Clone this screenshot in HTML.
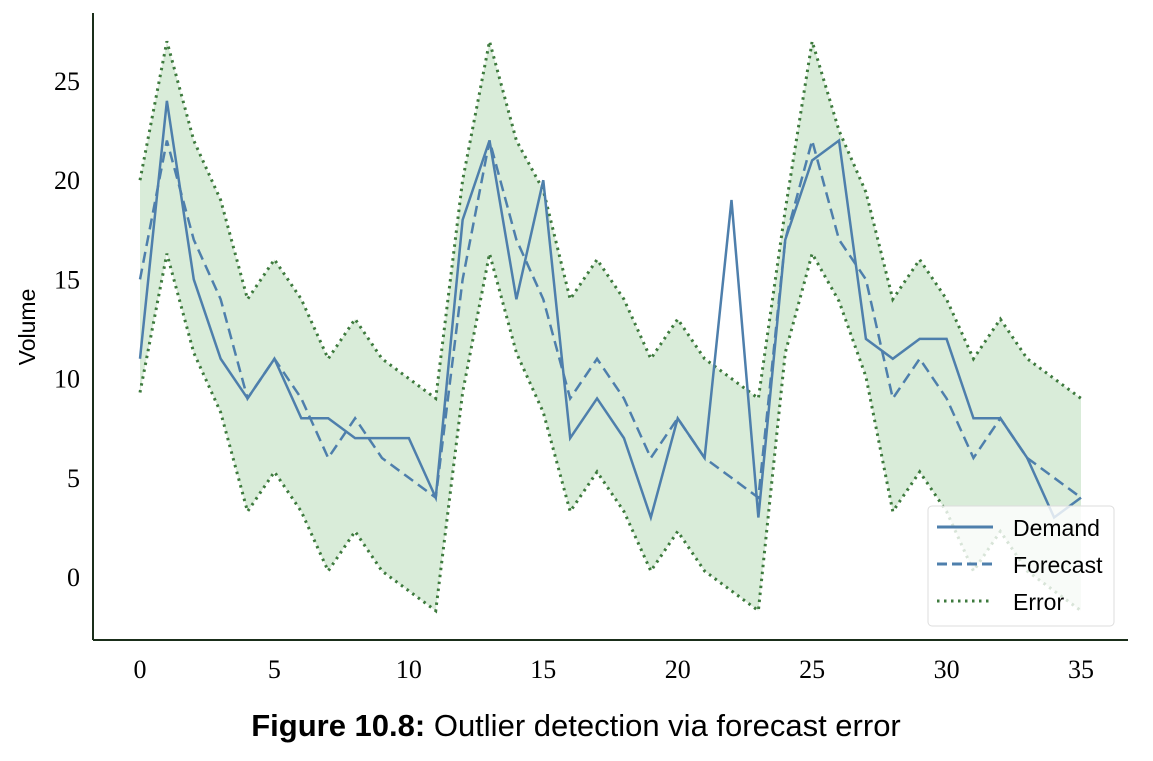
<!DOCTYPE html>
<html><head><meta charset="utf-8"><style>
body{margin:0;background:#fff;width:1153px;height:756px;overflow:hidden}
svg text{font-family:"Liberation Serif",serif}
</style></head><body>
<svg width="1153" height="756">
<g id="plot"></g>
<line x1="93" y1="13" x2="93" y2="640" stroke="#1a2e1a" stroke-width="2"/>
<line x1="93" y1="640" x2="1128" y2="640" stroke="#1a2e1a" stroke-width="2"/>
<g id="ticks"></g>
<text x="35" y="327" transform="rotate(-90 35 327)" text-anchor="middle" style="font-family:'Liberation Sans',sans-serif;font-size:23px">Volume</text>
<g>
<rect x="928" y="506" width="186" height="120" rx="4" fill="#fff" fill-opacity="0.8" stroke="#ddd"/>
<line x1="937" y1="527" x2="993" y2="527" stroke="#4e7fac" stroke-width="3"/>
<line x1="937" y1="564" x2="993" y2="564" stroke="#4e7fac" stroke-width="3" stroke-dasharray="10,5"/>
<line x1="937" y1="601" x2="993" y2="601" stroke="#3d7a3d" stroke-width="3" stroke-dasharray="2.5,4.5"/>
<text x="1013" y="536" style="font-family:'Liberation Sans',sans-serif;font-size:23px">Demand</text>
<text x="1013" y="573" style="font-family:'Liberation Sans',sans-serif;font-size:23px">Forecast</text>
<text x="1013" y="610" style="font-family:'Liberation Sans',sans-serif;font-size:23px">Error</text>
</g>
<text x="576" y="736" text-anchor="middle" style="font-family:'Liberation Sans',sans-serif;font-size:31px"><tspan font-weight="bold">Figure 10.8:</tspan> Outlier detection via forecast error</text>
</svg>
<script>
const xs=[...Array(36).keys()];
const demand=[11,24,15,11,9,11,8,8,7,7,7,4,18,22,14,20,7,9,7,3,8,6,19,3,17,21,22,12,11,12,12,8,8,6,3,4];
const forecast=[15,22,17,14,9,11,9,6,8,6,5,4,15,22,17,14,9,11,9,6,8,6,5,4,17,22,17,15,9,11,9,6,8,6,5,4];
const errUpper=[20,27,22,19,14,16,14,11,13,11,10,9,20,27,22,19.5,14,16,14,11,13,11,10,9,18.5,27,22.5,19.4,14,16,14,11,13,11,10,9];
const errLower=[9.3,16.3,11.3,8.3,3.3,5.3,3.3,0.3,2.3,0.3,-0.7,-1.7,9.3,16.3,11.3,8.3,3.3,5.3,3.3,0.3,2.3,0.3,-0.7,-1.7,11.3,16.3,13.9,10.1,3.3,5.3,3.3,0.3,2.3,0.3,-0.7,-1.7];
const xTicks=[0,5,10,15,20,25,30,35];
const yTicks=[0,5,10,15,20,25];
const X=v=>140+v*(1081-140)/35, Y=v=>577-v*(577-81)/25;
const NS="http://www.w3.org/2000/svg";
const plot=document.getElementById('plot'), tk=document.getElementById('ticks');
function mk(tag,attrs,parent){const e=document.createElementNS(NS,tag);for(const k in attrs)e.setAttribute(k,attrs[k]);parent.appendChild(e);return e;}
const up=errUpper.map((v,i)=>[X(xs[i]),Y(v)]), lo=errLower.map((v,i)=>[X(xs[i]),Y(v)]);
const band=mk('path',{d:'M'+up.map(p=>p.join(',')).join('L')+'L'+lo.slice().reverse().map(p=>p.join(',')).join('L')+'Z',fill:'#d9ecd9'},plot);


const pu=mk('polyline',{points:up.map(p=>p.join(',')).join(' '),fill:'none',stroke:'#3d7a3d','stroke-width':3,'stroke-dasharray':'2.5,4.5'},plot);


const pl=mk('polyline',{points:lo.map(p=>p.join(',')).join(' '),fill:'none',stroke:'#3d7a3d','stroke-width':3,'stroke-dasharray':'2.5,4.5'},plot);


const fl=mk('polyline',{points:forecast.map((v,i)=>X(xs[i])+','+Y(v)).join(' '),fill:'none',stroke:'#4e7fac','stroke-width':2.5,'stroke-dasharray':'11,6'},plot);


const dl=mk('polyline',{points:demand.map((v,i)=>X(xs[i])+','+Y(v)).join(' '),fill:'none',stroke:'#4e7fac','stroke-width':2.5},plot);


xTicks.forEach(t=>{const e=mk('text',{x:X(t),y:678,'text-anchor':'middle','font-size':26},tk);e.textContent=t;

});
yTicks.forEach(t=>{const e=mk('text',{x:80,y:Y(t)+9,'text-anchor':'end','font-size':26},tk);e.textContent=t;

});
</script>
</body></html>
